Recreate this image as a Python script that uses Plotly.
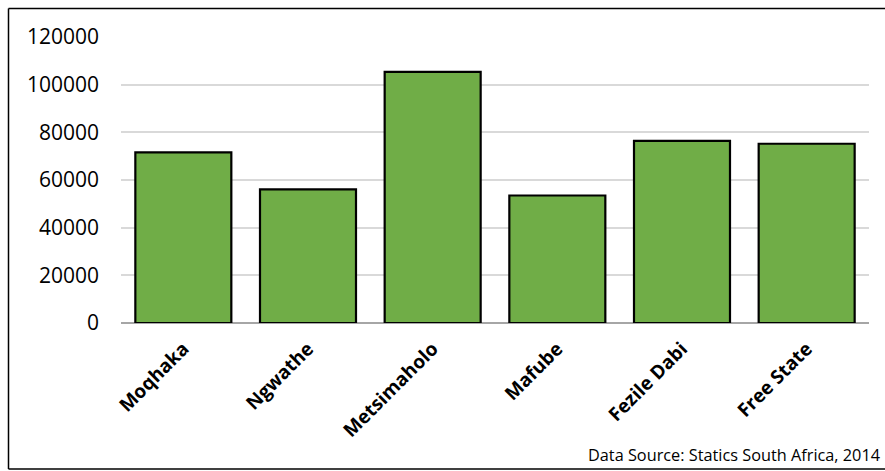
import plotly.graph_objects as go

categories = ["Moqhaka", "Ngwathe", "Metsimaholo", "Mafube", "Fezile Dabi", "Free State"]
values = [71600, 56100, 105400, 53500, 76400, 75200]
y_ticks = [0, 20000, 40000, 60000, 80000, 100000, 120000]

W, H = 885, 471
L, R, T, B = 121, 16, 37, 148
pw, ph = W - L - R, H - T - B

def px_x(px):
    return (px - L) / pw

def px_y(py):
    return (H - B - py) / ph

font = "Open Sans"

fig = go.Figure(go.Bar(
    x=categories, y=values,
    marker=dict(color="#70ad47", line=dict(color="#000000", width=2.2)),
))

border = dict(color="#000000", width=1.5)
bx0, bx1, by0, by1 = px_x(8.5), px_x(1000), px_y(469), px_y(8.5)

fig.update_layout(
    width=W, height=H,
    margin=dict(l=L, r=R, t=T, b=B),
    paper_bgcolor="white", plot_bgcolor="white",
    bargap=0.23,
    showlegend=False,
    font=dict(family=font, color="#000000"),
    xaxis=dict(
        tickangle=-45,
        tickfont=dict(family=font, size=19, color="#000000", weight="bold"),
        showgrid=False, showline=False, ticks="", ticklabelstandoff=10,
    ),
    yaxis=dict(
        range=[0, 120000], tickvals=y_ticks, ticktext=[str(v) for v in y_ticks],
        tickfont=dict(family=font, size=21, color="#000000"),
        showgrid=True, gridcolor="#d9d9d9", gridwidth=1.5,
        zeroline=True, zerolinecolor="#a6a6a6", zerolinewidth=1.5,
        showline=False, ticks="", ticklabelstandoff=21,
    ),
    shapes=[
        dict(type="line", xref="paper", yref="paper", x0=bx0, x1=bx0, y0=by0, y1=by1, line=border, layer="below"),
        dict(type="line", xref="paper", yref="paper", x0=bx0, x1=bx1, y0=by1, y1=by1, line=border, layer="below"),
        dict(type="line", xref="paper", yref="paper", x0=bx0, x1=bx1, y0=by0, y1=by0, line=border, layer="below"),
    ],
    annotations=[dict(
        text="Data Source: Statics South Africa, 2014",
        xref="paper", yref="paper", x=px_x(586), y=px_y(468),
        xanchor="left", yanchor="bottom", showarrow=False,
        font=dict(family=font, size=16.3, color="#000000"),
    )],
)

fig.write_html("out.html")
